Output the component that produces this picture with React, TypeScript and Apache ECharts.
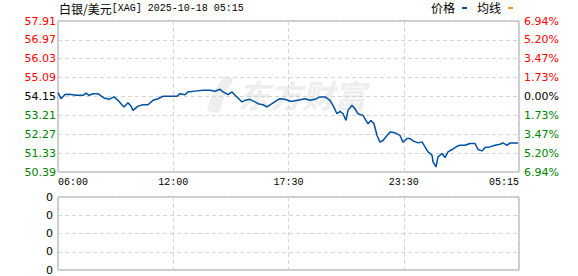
import React, { useEffect, useRef } from "react";
import * as echarts from "echarts";

const titleName = "白银/美元";
const titleCode = "[XAG] 2025-10-18 05:15";
const legendNames = ["价格", "均线"];
const timeLabels = ["06:00", "12:00", "17:30", "23:30", "05:15"];
const baseClose = 54.15;
const priceMin = 50.39;
const priceMax = 57.91;
const priceStep = 0.94;
// sample index along the axis (0..461) and price
const sampleIdx = [
  0, 3, 7, 11, 18, 25, 28, 31, 35, 40, 43, 46, 51, 56, 60, 63, 66, 70, 73, 75,
  80, 85, 90, 95, 100, 105, 116, 119, 122, 127, 130, 139, 145, 152, 157, 162, 165, 170, 174, 177,
  180, 184, 187, 192, 197, 200, 205, 209, 214, 219, 222, 227, 232, 234, 240, 247, 252, 257, 262, 267,
  272, 275, 279, 282, 285, 288, 290, 294, 297, 300, 305, 310, 313, 316, 319, 322, 325, 329, 332, 337,
  342, 345, 349, 352, 355, 360, 364, 367, 370, 374, 375, 378, 380, 384, 387, 390, 394, 399, 402, 407,
  412, 417, 420, 424, 427, 432, 437, 442, 445, 449, 452, 457, 460,
];
const samplePrice = [
  54.34, 54.04, 54.25, 54.26, 54.21, 54.21, 54.32, 54.21, 54.29, 54.29, 54.18, 54.08, 54.01, 54.13, 53.96, 53.79, 53.63, 53.84, 53.67, 53.46,
  53.67, 53.74, 53.74, 53.96, 54.04, 54.16, 54.16, 54.16, 54.29, 54.24, 54.38, 54.43, 54.46, 54.46, 54.41, 54.51, 54.38, 54.24, 54.38, 54.21,
  54.08, 53.88, 53.96, 54.01, 53.88, 53.79, 53.74, 53.63, 53.79, 53.96, 54.04, 54.01, 53.91, 53.91, 53.96, 54.04, 53.96, 54.01, 54.13, 54.13,
  53.96, 53.71, 53.29, 53.41, 53.29, 52.96, 53.46, 53.71, 53.54, 53.29, 53.21, 52.79, 52.96, 52.79, 52.21, 51.88, 51.96, 52.21, 52.38, 52.34,
  52.21, 51.88, 52.06, 52.06, 51.94, 51.84, 51.89, 51.64, 51.39, 51.23, 50.89, 50.64, 51.14, 51.31, 51.11, 51.39, 51.51, 51.67, 51.72, 51.72,
  51.81, 51.81, 51.51, 51.44, 51.61, 51.64, 51.72, 51.77, 51.84, 51.72, 51.84, 51.84, 51.84,
];
const volumeLabels = ["0", "0", "0", "0", "0"];

const AXIS_SPAN = 461;

export default function App() {
  const ref = useRef<HTMLDivElement>(null);
  useEffect(() => {
    document.body.style.margin = "0";
    const chart = echarts.init(ref.current!, null, { renderer: "svg" });
    const priceColor = (v: number) => {
      const r = Math.round(v * 100);
      const b = Math.round(baseClose * 100);
      return r > b ? "#ff0000" : r < b ? "#008000" : "#000000";
    };
    const pctLabel = (v: number) => {
      const p = Math.abs(v - baseClose) / baseClose * 100;
      return (Math.floor(p * 100 + 1e-6) / 100).toFixed(2) + "%";
    };
    const labelFont = { fontFamily: "DejaVu Sans", fontSize: 11 };
    const split = { show: true, lineStyle: { color: "#d4d4d4", type: [4, 3] as any, width: 1 } };
    const data = sampleIdx.map((x, i) => [x, samplePrice[i]]);
    chart.setOption({
      animation: false,
      grid: [
        { left: 58, top: 21, width: 461, height: 151, show: true, borderColor: "#999", borderWidth: 1, backgroundColor: "transparent" },
        { left: 58, top: 197, width: 461, height: 73, show: true, borderColor: "#999", borderWidth: 1, backgroundColor: "transparent" },
      ],
      xAxis: [
        {
          type: "value", gridIndex: 0, min: 0, max: AXIS_SPAN, interval: AXIS_SPAN / 4,
          axisLine: { show: false }, axisTick: { show: false },
          splitLine: split,
          axisLabel: {
            show: true, margin: 5, color: "#000", fontFamily: "Liberation Mono", fontSize: 10,
            alignMinLabel: "left", alignMaxLabel: "right", showMinLabel: true, showMaxLabel: true,
            formatter: (v: number) => timeLabels[Math.round(v / (AXIS_SPAN / 4))] ?? "",
          },
        },
        {
          type: "value", gridIndex: 1, min: 0, max: AXIS_SPAN, interval: AXIS_SPAN / 4,
          axisLine: { show: false }, axisTick: { show: false }, axisLabel: { show: false },
          splitLine: split,
        },
      ],
      yAxis: [
        {
          type: "value", gridIndex: 0, position: "left", min: priceMin, max: priceMax, interval: priceStep,
          axisLine: { show: false }, axisTick: { show: false }, splitLine: split,
          axisLabel: {
            ...labelFont, margin: 2, showMinLabel: true, showMaxLabel: true,
            formatter: (v: number) => v.toFixed(2),
            color: (v: any) => priceColor(Number(v)),
          },
        },
        {
          type: "value", gridIndex: 0, position: "right", min: priceMin, max: priceMax, interval: priceStep,
          axisLine: { show: false }, axisTick: { show: false }, splitLine: { show: false },
          axisLabel: {
            ...labelFont, margin: 5, showMinLabel: true, showMaxLabel: true,
            formatter: (v: number) => pctLabel(v),
            color: (v: any) => priceColor(Number(v)),
          },
        },
        {
          type: "value", gridIndex: 1, position: "left", min: 0, max: 4, interval: 1,
          axisLine: { show: false }, axisTick: { show: false }, splitLine: split,
          axisLabel: {
            ...labelFont, margin: 5, color: "#000", showMinLabel: true, showMaxLabel: true,
            formatter: (v: number) => volumeLabels[Math.round(v)] ?? "0",
          },
        },
      ],
      graphic: [
        {
          type: "polygon", z: 0, silent: true,
          shape: { points: [[224, 76], [234, 79], [226, 92], [219, 113], [207, 111], [211, 96]] },
          style: { fill: "#eeeeee" },
        },
        {
          type: "text", z: 0, silent: true, left: 238, top: 78,
          style: { text: "东方财富", fontFamily: "Noto Sans CJK SC", fontSize: 32, fontWeight: "bold", fontStyle: "italic", fill: "#eeeeee" },
        },
        {
          type: "text", left: 59, top: 2,
          style: {
            text: "{a|" + titleName + "}{b|" + titleCode + "}",
            rich: {
              a: { fontFamily: "Noto Sans CJK SC", fontSize: 12, fill: "#000", lineHeight: 14 },
              b: { fontFamily: "Liberation Mono", fontSize: 10, fill: "#000", lineHeight: 14 },
            },
          } as any,
        },
        { type: "text", left: 431, top: 1, style: { text: legendNames[0], fontFamily: "Noto Sans CJK SC", fontSize: 12, fill: "#000" } },
        { type: "rect", shape: { x: 462, y: 7, width: 5, height: 2 }, style: { fill: "#0050a0" } },
        { type: "text", left: 477, top: 1, style: { text: legendNames[1], fontFamily: "Noto Sans CJK SC", fontSize: 12, fill: "#000" } },
        { type: "rect", shape: { x: 508, y: 7, width: 5, height: 2 }, style: { fill: "#e0a020" } },
      ],
      series: [
        {
          name: legendNames[0], type: "line", xAxisIndex: 0, yAxisIndex: 0, data,
          showSymbol: false, symbol: "none", z: 5,
          lineStyle: { color: "#0050a0", width: 1.5 },
        },
        {
          name: legendNames[1], type: "line", xAxisIndex: 0, yAxisIndex: 0, data: [],
          showSymbol: false, lineStyle: { color: "#e0a020", width: 1 },
        },
      ],
    });
    return () => chart.dispose();
  }, []);
  return <div ref={ref} style={{ width: 578, height: 276 }} />;
}
